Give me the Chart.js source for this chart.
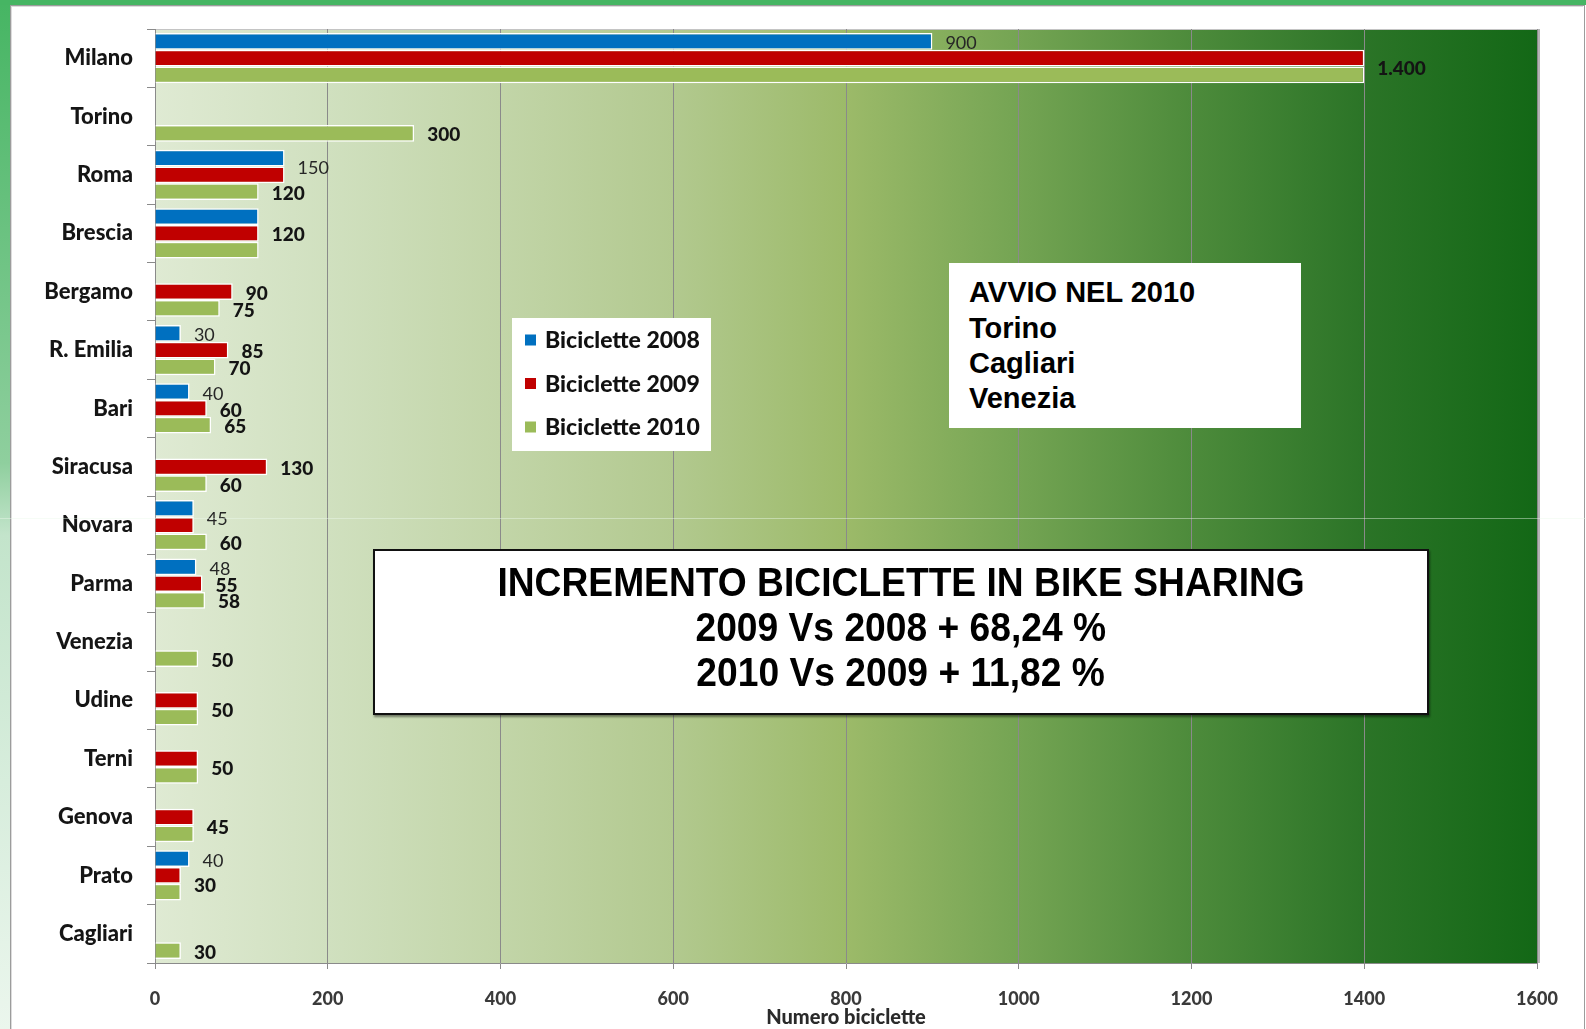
<!DOCTYPE html>
<html>
<head>
<meta charset="utf-8">
<script src="https://cdn.jsdelivr.net/npm/chart.js@4.4.1/dist/chart.umd.min.js"></script>
<style>
html,body{margin:0;padding:0;width:1586px;height:1029px;overflow:hidden;background:#fff;}
#leftStrip{position:absolute;left:0;top:0;width:10px;height:1029px;background:linear-gradient(#46b563,#8fcf9e 45%,#c3e4cb 52%,#ebf6ed);}
#topStrip{position:absolute;left:0;top:0;width:1586px;height:5px;background:#46b563;}
#frame{position:absolute;left:10px;top:5px;width:1573px;height:1040px;border:1px solid #9c9c9c;border-bottom:none;}
#frame2{position:absolute;left:11px;top:6px;width:1571px;height:1040px;border-left:1px solid #dcdcdc;border-top:1px solid #dcdcdc;}
#wrap{position:absolute;left:0;top:0;width:1586px;height:1029px;}
#seam{position:absolute;left:0;top:518px;width:1586px;height:1px;background:rgba(235,248,236,0.45);z-index:5;}
.box{position:absolute;background:#fff;font-family:"Liberation Sans",Arial,sans-serif;font-weight:bold;color:#000;z-index:3;}
#avvio{left:949px;top:263px;width:352px;height:165px;}
#avvio div{position:absolute;left:20px;font-size:29px;line-height:29px;white-space:nowrap;}
#incr{left:373px;top:549px;width:1052px;height:162px;border:2px solid #111;box-shadow:1px 2px 2px rgba(0,0,0,0.45);}
#incr div{position:absolute;left:0;width:100%;text-align:center;font-size:40px;line-height:40px;white-space:nowrap;}
#incr span{display:inline-block;transform:scaleX(0.93);transform-origin:center;}
</style>
</head>
<body>
<div id="leftStrip"></div>
<div id="topStrip"></div>
<div id="frame"></div>
<div id="frame2"></div>
<div id="wrap"><canvas id="c"></canvas></div>
<div id="seam"></div>
<div class="box" id="avvio">
  <div style="top:15px">AVVIO NEL 2010</div>
  <div style="top:51px">Torino</div>
  <div style="top:86px">Cagliari</div>
  <div style="top:121px">Venezia</div>
</div>
<div class="box" id="incr">
  <div style="top:11px"><span>INCREMENTO BICICLETTE IN BIKE SHARING</span></div>
  <div style="top:56px"><span>2009 Vs 2008 + 68,24 %</span></div>
  <div style="top:101px"><span>2010 Vs 2009 + 11,82 %</span></div>
</div>
<script>
// ---- data ----
const cities = ['Milano','Torino','Roma','Brescia','Bergamo','R. Emilia','Bari','Siracusa','Novara','Parma','Venezia','Udine','Terni','Genova','Prato','Cagliari'];
const bici2008 = [900, null, 150, 120, null, 30, 40, null, 45, 48, null, null, null, null, 40, null];
const bici2009 = [1400, null, 150, 120, 90, 85, 60, 130, 45, 55, null, 50, 50, 45, 30, null];
const bici2010 = [1400, 300, 120, 120, 75, 70, 65, 60, 60, 58, 50, 50, 50, 45, 30, 30];
const seriesNames = ['Biciclette 2008','Biciclette 2009','Biciclette 2010'];
const xTicks = [0, 200, 400, 600, 800, 1000, 1200, 1400, 1600];
// value labels not shown in the original (a neighbouring equal bar carries it)
const hiddenLabels2008 = ['Brescia'];
const hiddenLabels2009 = ['Roma','Novara'];
const hiddenLabels2010 = ['Milano','Brescia','Udine','Terni','Genova','Prato'];

const colors = ['#0070C0','#C00000','#9BBB59'];
const hiddenSets = [hiddenLabels2008, hiddenLabels2009, hiddenLabels2010];
const BOLD = '900';

function fmt(v){ return String(v).replace(/\B(?=(\d{3})+(?!\d))/g,'.'); }

const bgPlugin = {
  id:'bg',
  beforeDraw(chart){
    const {ctx, chartArea:a} = chart;
    const g = ctx.createLinearGradient(a.left,0,a.right,0);
    g.addColorStop(0.00,'#dfead3');
    g.addColorStop(0.125,'#d0e0bf');
    g.addColorStop(0.25,'#c2d5a8');
    g.addColorStop(0.375,'#b2c98f');
    g.addColorStop(0.50,'#9cba69');
    g.addColorStop(0.625,'#74a453');
    g.addColorStop(0.75,'#4d8b3b');
    g.addColorStop(0.875,'#2b7427');
    g.addColorStop(1.00,'#136816');
    ctx.save();
    ctx.fillStyle = g;
    ctx.fillRect(a.left,a.top,a.right-a.left,a.bottom-a.top);
    ctx.strokeStyle = '#c4c4c4';
    ctx.lineWidth = 1;
    ctx.beginPath(); ctx.moveTo(a.left,a.top+0.5); ctx.lineTo(a.right,a.top+0.5); ctx.stroke();
    ctx.fillStyle = '#b4b4b4';
    ctx.fillRect(a.right, a.top, 3, a.bottom-a.top);
    ctx.restore();
  }
};

const labelPlugin = {
  id:'vlabels',
  afterDatasetsDraw(chart){
    const ctx = chart.ctx;
    const ds = chart.data.datasets;
    const isHidden = (i,j) => hiddenSets[i].includes(cities[j]);
    ctx.save();
    ctx.textBaseline = 'middle';
    ctx.textAlign = 'left';
    for (let i=0;i<ds.length;i++){
      for (let j=0;j<cities.length;j++){
        const v = ds[i].data[j];
        if (v == null || isHidden(i,j)) continue;
        const group = [i];
        for (let k=i-1;k>=0 && ds[k].data[j]===v && isHidden(k,j);k--) group.push(k);
        for (let k=i+1;k<ds.length && ds[k].data[j]===v && isHidden(k,j);k++) group.push(k);
        let y = 0, x = 0;
        group.forEach(k => { const b = chart.getDatasetMeta(k).data[j]; y += b.y; x = Math.max(x,b.x); });
        y /= group.length;
        ctx.fillStyle = i===0 ? '#262626' : '#141414';
        ctx.font = (i===0 ? '400 18px Lato' : BOLD + ' 19px Lato');
        ctx.fillText(fmt(v), x+13, y+2);
      }
    }
    ctx.restore();
  }
};

const legendPlugin = {
  id:'boxLegend',
  afterDraw(chart){
    const ctx = chart.ctx;
    ctx.save();
    ctx.fillStyle = '#ffffff';
    ctx.fillRect(512,318,199,133);
    const rows = [340,383.5,427];
    chart.data.datasets.forEach((d,i)=>{
      ctx.fillStyle = d.backgroundColor;
      ctx.fillRect(525, rows[i]-5.5, 11, 11);
      ctx.fillStyle = '#111';
      ctx.font = BOLD + ' 23px Lato';
      ctx.textBaseline = 'middle';
      ctx.textAlign = 'left';
      ctx.fillText(d.label, 545, rows[i]+1);
    });
    ctx.restore();
  }
};

function build(){
  const datasets = [bici2008, bici2009, bici2010].map((arr,i)=>({
    label: seriesNames[i],
    data: arr,
    backgroundColor: colors[i],
    borderColor: '#ffffff',
    borderWidth: 1.5,
    borderSkipped: 'start',
    categoryPercentage: 0.86,
    barPercentage: 1.0
  }));
  new Chart(document.getElementById('c'), {
    type:'bar',
    data:{ labels: cities, datasets },
    plugins:[bgPlugin,labelPlugin,legendPlugin],
    options:{
      indexAxis:'y',
      responsive:true,
      maintainAspectRatio:false,
      animation:false,
      layout:{padding:{left:0,right:49,top:29,bottom:0}},
      plugins:{legend:{display:false},tooltip:{enabled:false},title:{display:false}},
      scales:{
        x:{
          min:xTicks[0], max:xTicks[xTicks.length-1],
          afterBuildTicks(scale){ scale.ticks = xTicks.map(v=>({value:v})); },
          ticks:{font:{family:'Lato',weight:BOLD,size:18},color:'#3a3a3a',padding:19,callback:v=>String(v),maxRotation:0},
          grid:{color:'#8a8a8a',lineWidth:1,tickLength:6,drawTicks:true},
          border:{display:true,color:'#8a8a8a'},
          title:{display:true,text:'Numero biciclette',font:{family:'Lato',weight:BOLD,size:20},color:'#2a2a2a',padding:{top:0,bottom:-1}},
          afterFit(scale){ scale.height = 66; }
        },
        y:{
          grid:{display:true,drawOnChartArea:false,drawTicks:true,tickLength:8,offset:true,color:'#8a8a8a'},
          border:{display:true,color:'#8a8a8a'},
          ticks:{font:{family:'Lato',weight:BOLD,size:22},color:'#151515',padding:14,autoSkip:false},
          afterFit(scale){ scale.width = 155; }
        }
      }
    }
  });
}
if (document.fonts && document.fonts.load) {
  Promise.all([document.fonts.load('900 20px Lato'),document.fonts.load('400 18px Lato')]).then(build, build);
} else build();
</script>
</body>
</html>
